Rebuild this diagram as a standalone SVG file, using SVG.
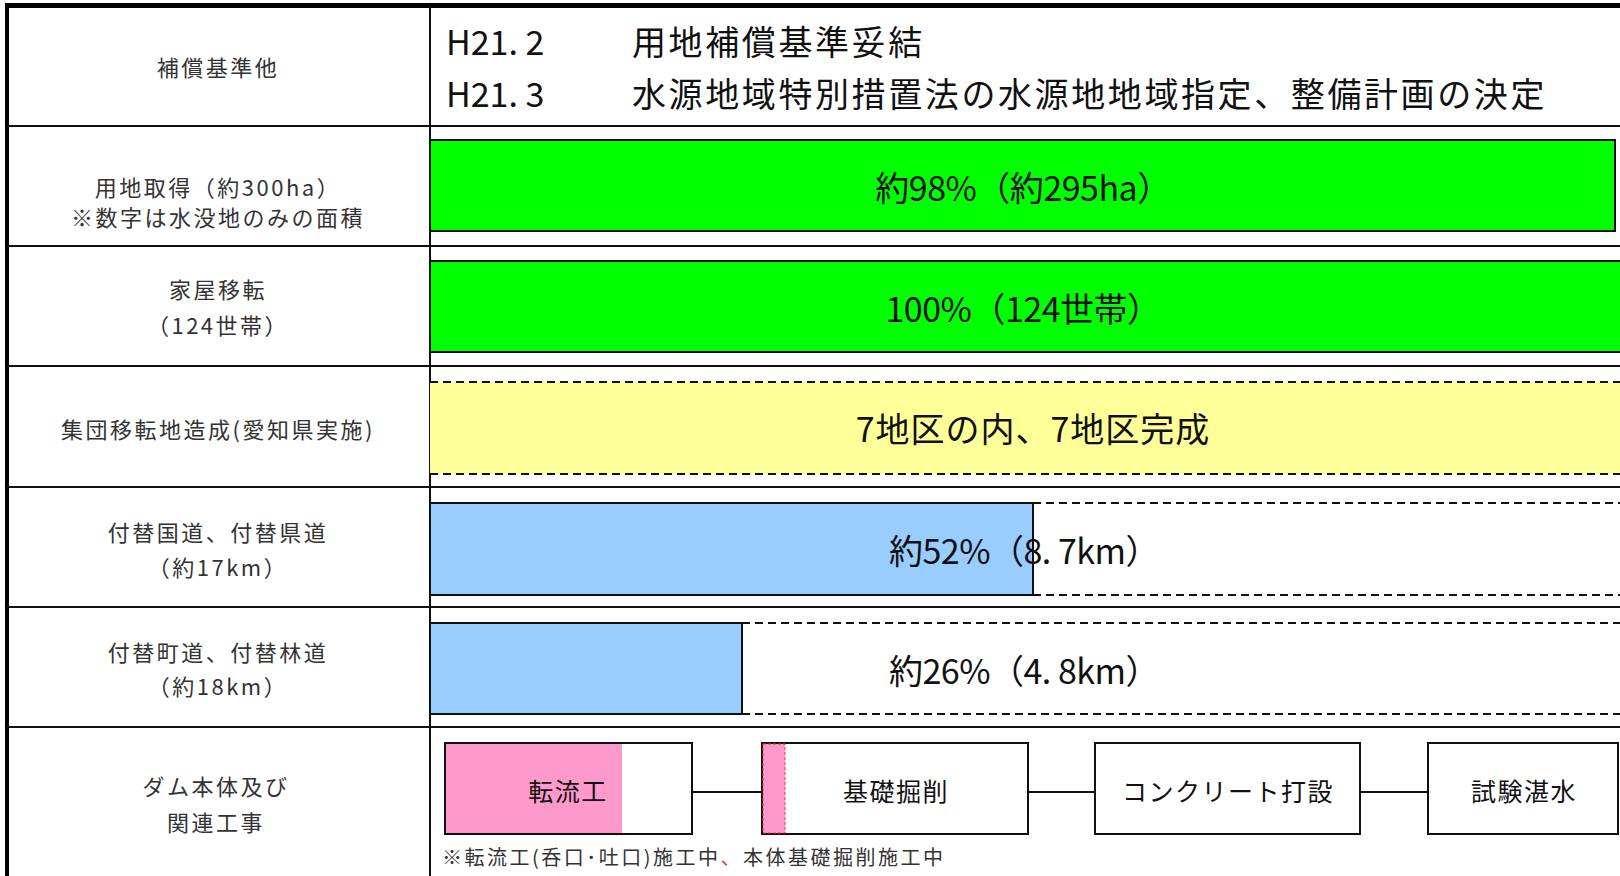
<svg xmlns="http://www.w3.org/2000/svg" width="1620" height="876" viewBox="0 0 1620 876">
<style>
text{font-family:"Noto Sans CJK JP","Noto Sans",sans-serif;fill:#111}
.lab{font-size:22px;letter-spacing:2.5px;text-anchor:middle;fill:#333}
.hd{font-size:34px;letter-spacing:2.6px}
.hn{font-size:34px;letter-spacing:0px}
.bt{font-size:34px;letter-spacing:-0.5px;text-anchor:middle}
.bx{font-size:25px;letter-spacing:1.5px;text-anchor:middle}
.grid{stroke:#111;stroke-width:2;fill:none}
.bar{stroke:#111;stroke-width:2}
.dash{stroke:#111;stroke-width:2;stroke-dasharray:8 5;fill:none}
.box{fill:#fff;stroke:#111;stroke-width:2}
</style>
<rect x="0" y="0" width="1620" height="876" fill="#fff"/>
<g id="frame">
<line x1="5" y1="5.5" x2="1620" y2="5.5" stroke="#000" stroke-width="5"/>
<line x1="7" y1="3" x2="7" y2="876" stroke="#000" stroke-width="4"/>
<line class="grid" x1="430" y1="5" x2="430" y2="876"/>
<line class="grid" x1="7" y1="126" x2="1620" y2="126"/>
<line class="grid" x1="7" y1="246" x2="1620" y2="246"/>
<line class="grid" x1="7" y1="366" x2="1620" y2="366"/>
<line class="grid" x1="7" y1="487" x2="1620" y2="487"/>
<line class="grid" x1="7" y1="607" x2="1620" y2="607"/>
<line class="grid" x1="7" y1="727" x2="1620" y2="727"/>
</g>
<g id="row-hosho">
<text class="lab" x="218" y="76">補償基準他</text>
<text class="hn" x="446" y="55">H21. 2</text>
<text class="hd" x="632" y="55">用地補償基準妥結</text>
<text class="hn" x="446" y="107">H21. 3</text>
<text class="hd" x="632" y="107">水源地域特別措置法の水源地地域指定、整備計画の決定</text>
</g>
<g id="row-yochi">
<text class="lab" x="218" y="196">用地取得（約300ha）</text>
<text class="lab" x="218" y="226">※数字は水没地のみの面積</text>
<rect class="bar" x="430" y="140" width="1185" height="91" fill="#00FF00"/>
<text class="bt" x="1023" y="201">約98%（約295ha）</text>
</g>
<g id="row-kaoku">
<text class="lab" x="218" y="298">家屋移転</text>
<text class="lab" x="218" y="334">（124世帯）</text>
<rect class="bar" x="430" y="261" width="1200" height="91" fill="#00FF00"/>
<text class="bt" x="1023" y="322">100%（124世帯）</text>
</g>
<g id="row-shudan">
<text class="lab" x="218" y="438">集団移転地造成(愛知県実施)</text>
<rect x="430" y="382" width="1190" height="92" fill="#FFFF99"/>
<line class="dash" x1="430" y1="382" x2="1620" y2="382"/>
<line class="dash" x1="430" y1="474" x2="1620" y2="474"/>
<text class="bt" x="1033" y="442" style="letter-spacing:1px">7地区の内、7地区完成</text>
</g>
<g id="row-kokudo">
<text class="lab" x="218" y="541">付替国道、付替県道</text>
<text class="lab" x="218" y="576">（約17km）</text>
<rect class="bar" x="430" y="503" width="603" height="92" fill="#99CCFF"/>
<line class="dash" x1="1033" y1="503" x2="1620" y2="503"/>
<line class="dash" x1="1033" y1="595" x2="1620" y2="595"/>
<text class="bt" x="1024" y="564">約52%（8. 7km）</text>
</g>
<g id="row-chodo">
<text class="lab" x="218" y="661">付替町道、付替林道</text>
<text class="lab" x="218" y="695">（約18km）</text>
<rect class="bar" x="430" y="623" width="312" height="91" fill="#99CCFF"/>
<line class="dash" x1="742" y1="623" x2="1620" y2="623"/>
<line class="dash" x1="742" y1="714" x2="1620" y2="714"/>
<text class="bt" x="1024" y="684">約26%（4. 8km）</text>
</g>
<g id="row-dam-label">
<text class="lab" x="216" y="795">ダム本体及び</text>
<text class="lab" x="216" y="831">関連工事</text>
</g>
<g id="connectors" stroke="#111" stroke-width="2">
<line x1="692" y1="792" x2="762" y2="792"/>
<line x1="1022" y1="792" x2="1095" y2="792"/>
<line x1="1360" y1="792" x2="1428" y2="792"/>
</g>
<g id="box-tenryu">
<rect class="box" x="445" y="743" width="247" height="91"/>
<rect x="446" y="744" width="176" height="89" fill="#FF99CC"/>
<text class="bx" x="568" y="801">転流工</text>
</g>
<g id="box-kiso">
<rect class="box" x="762" y="743" width="266" height="91"/>
<rect x="763" y="744" width="22" height="89" fill="#FF99CC" stroke="#FF3333" stroke-width="1" stroke-dasharray="3 2"/>
<text class="bx" x="896" y="801">基礎掘削</text>
</g>
<g id="box-concrete">
<rect class="box" x="1095" y="743" width="265" height="91"/>
<text class="bx" x="1228" y="801">コンクリート打設</text>
</g>
<g id="box-tansui">
<rect class="box" x="1428" y="743" width="190" height="91"/>
<text class="bx" x="1524" y="801">試験湛水</text>
</g>
<g id="footnote">
<text x="442" y="865" style="font-size:20px;letter-spacing:2.5px;fill:#333">※転流工(呑口･吐口)施工中<tspan fill="#E33">、</tspan>本体基礎掘削施工中</text>
</g>
</svg>
